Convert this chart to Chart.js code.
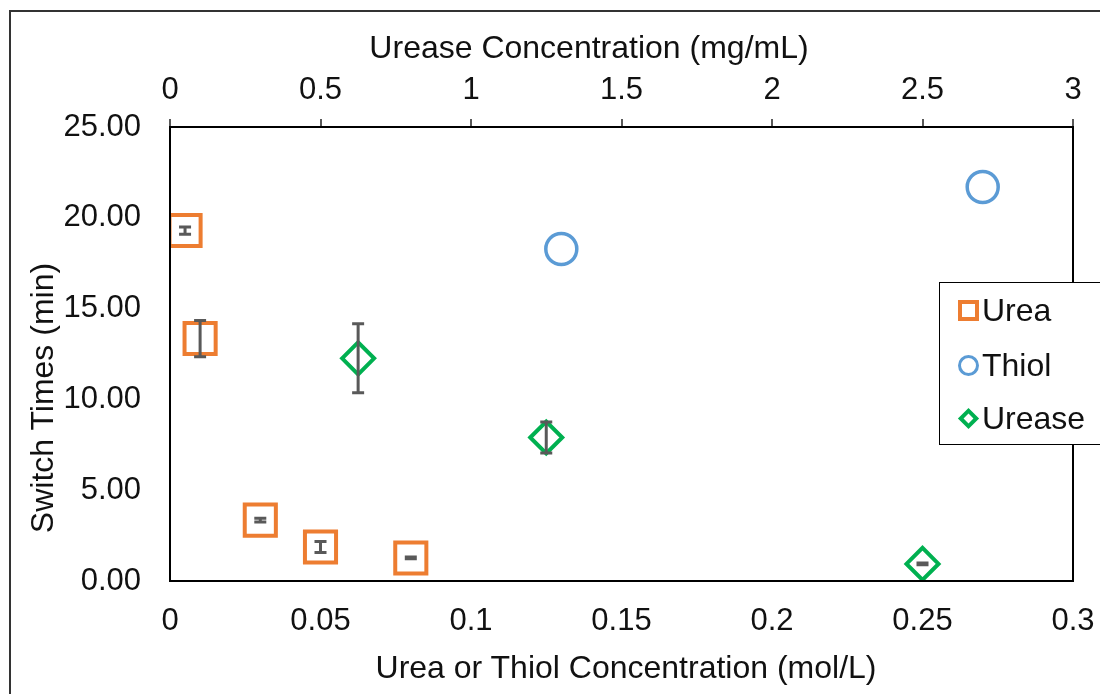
<!DOCTYPE html>
<html>
<head>
<meta charset="utf-8">
<script src="https://cdn.jsdelivr.net/npm/chart.js@4"></script>
<style>
  html, body { margin: 0; padding: 0; background: #fff; overflow: hidden; }
  #wrap { position: relative; width: 1100px; height: 694px; font-family: "Liberation Sans", Arial, sans-serif; color: #111; }
  #frame { position: absolute; left: 9px; top: 10px; width: 1200px; height: 800px; border: 2px solid #333; }
  .ttl { position: absolute; font-size: 32px; white-space: nowrap; transform: translate(-50%, -50%); }
  #legend { position: absolute; left: 939px; top: 282px; width: 220px; height: 161px; border: 1.5px solid #000; background: #fff; }
  .row { position: absolute; left: 0; height: 40px; font-size: 32px; }
  .mk { position: absolute; box-sizing: border-box; }
</style>
</head>
<body>
<div id="wrap">
  <div id="frame"></div>
  <canvas id="chart" width="1100" height="694"></canvas>
  <div class="ttl" style="left:589px; top:47px;">Urease Concentration (mg/mL)</div>
  <div class="ttl" style="left:626px; top:667px;">Urea or Thiol Concentration (mol/L)</div>
  <div class="ttl" style="left:42px; top:398px; transform: translate(-50%, -50%) rotate(-90deg);">Switch Times (min)</div>
  <div id="legend"></div>
</div>
<script>
// Urea series (bottom axis, mol/L)
const ureaX = [0.005, 0.01, 0.03, 0.05, 0.08];
const ureaY = [19.3, 13.35, 3.35, 1.87, 1.27];
const ureaErr = [0.2, 1.0, 0.1, 0.3, 0.05];

// Thiol series (bottom axis, mol/L)
const thiolX = [0.13, 0.27];
const thiolY = [18.28, 21.7];

// Urease series (top axis, mg/mL)
const ureaseX = [0.625, 1.25, 2.5];
const ureaseY = [12.26, 7.9, 0.94];
const ureaseErr = [1.9, 0.85, 0.05];

const seriesNames = ['Urea', 'Thiol', 'Urease'];
const seriesColors = ['#ED7D31', '#5B9BD5', '#00B050'];

const toPoints = (xs, ys) => xs.map((x, i) => ({ x: x, y: ys[i] }));

// error bars + plot frame
const errorBars = {
    id: 'errorBars',
    afterDatasetsDraw(chart) {
        const ctx = chart.ctx;
        ctx.save();
        ctx.strokeStyle = '#595959';
        ctx.lineWidth = 3;
        chart.data.datasets.forEach(ds => {
            if (!ds.errors) return;
            const xs = chart.scales[ds.xAxisID || 'x'];
            const ys = chart.scales.y;
            ds.data.forEach((p, j) => {
                const e = ds.errors[j];
                const px = xs.getPixelForValue(p.x);
                const top = ys.getPixelForValue(p.y + e);
                const bot = ys.getPixelForValue(p.y - e);
                ctx.beginPath();
                ctx.moveTo(px, top); ctx.lineTo(px, bot);
                ctx.moveTo(px - 6, top); ctx.lineTo(px + 6, top);
                ctx.moveTo(px - 6, bot); ctx.lineTo(px + 6, bot);
                ctx.stroke();
            });
        });
        ctx.restore();
    },
    afterDraw(chart) {
        const { ctx, chartArea } = chart;
        ctx.save();
        ctx.strokeStyle = '#000';
        ctx.lineWidth = 2;
        ctx.strokeRect(chartArea.left, chartArea.top, chartArea.right - chartArea.left, chartArea.bottom - chartArea.top);
        ctx.restore();
    }
};

const tickFont = { family: '"Liberation Sans", Arial, sans-serif', size: 31 };
const fmt = v => String(+Number(v).toFixed(2));

const chart = new Chart(document.getElementById('chart'), {
    type: 'scatter',
    data: {
        datasets: [
            {
                label: seriesNames[0],
                data: toPoints(ureaX, ureaY),
                errors: ureaErr,
                xAxisID: 'x',
                pointStyle: 'rect',
                pointRadius: 22,
                borderColor: seriesColors[0],
                backgroundColor: 'rgba(255,255,255,0)',
                borderWidth: 4
            },
            {
                label: seriesNames[1],
                data: toPoints(thiolX, thiolY),
                xAxisID: 'x',
                pointStyle: 'circle',
                pointRadius: 15.5,
                borderColor: seriesColors[1],
                backgroundColor: 'rgba(255,255,255,0)',
                borderWidth: 3.5
            },
            {
                label: seriesNames[2],
                data: toPoints(ureaseX, ureaseY),
                errors: ureaseErr,
                xAxisID: 'x2',
                pointStyle: 'rectRot',
                pointRadius: 16,
                borderColor: seriesColors[2],
                backgroundColor: 'rgba(255,255,255,0)',
                borderWidth: 4
            }
        ]
    },
    options: {
        responsive: false,
        animation: false,
        devicePixelRatio: 1,
        layout: { padding: { left: 0, top: 0, right: 27, bottom: 0 } },
        plugins: { legend: { display: false }, tooltip: { enabled: false } },
        scales: {
            x: {
                type: 'linear', position: 'bottom', min: 0, max: 0.3,
                grid: { display: false }, border: { display: false },
                ticks: { stepSize: 0.05, font: tickFont, color: '#111', padding: 14, maxRotation: 0, autoSkip: false, callback: fmt },
                afterFit: s => { s.height = 113; s.paddingRight = 0; s.paddingLeft = 0; }
            },
            x2: {
                type: 'linear', position: 'top', min: 0, max: 3,
                grid: { drawOnChartArea: false, drawTicks: true, tickLength: 8, color: '#595959', lineWidth: 2 },
                border: { display: false },
                ticks: { stepSize: 0.5, font: tickFont, color: '#111', padding: 10, maxRotation: 0, autoSkip: false, callback: fmt },
                afterFit: s => { s.height = 127; s.paddingRight = 0; s.paddingLeft = 0; }
            },
            y: {
                type: 'linear', position: 'left', min: 0, max: 25,
                grid: { display: false }, border: { display: false },
                ticks: { stepSize: 5, font: tickFont, color: '#111', padding: 21, callback: v => Number(v).toFixed(2) },
                afterFit: s => { s.width = 170; s.paddingTop = 0; s.paddingBottom = 0; }
            }
        }
    },
    plugins: [errorBars]
});

// HTML legend built from the series names/colours
const legend = document.getElementById('legend');
const rowTops = [7, 62, 115];
seriesNames.forEach((name, i) => {
    const row = document.createElement('div');
    row.className = 'row';
    row.style.top = rowTops[i] + 'px';
    const mk = document.createElement('span');
    mk.className = 'mk';
    const c = seriesColors[i];
    if (i === 0) {
        mk.style.cssText = `left:18px;top:10px;width:21px;height:21px;border:4px solid ${c};`;
    } else if (i === 1) {
        mk.style.cssText = `left:18px;top:10px;width:21px;height:21px;border:3.5px solid ${c};border-radius:50%;`;
    } else {
        mk.style.cssText = `left:21px;top:13px;width:15px;height:15px;border:4px solid ${c};transform:rotate(45deg);`;
    }
    const txt = document.createElement('span');
    txt.textContent = name;
    txt.style.cssText = 'position:absolute;left:42px;top:2px;line-height:36px;';
    row.appendChild(mk);
    row.appendChild(txt);
    legend.appendChild(row);
});
</script>
</body>
</html>
